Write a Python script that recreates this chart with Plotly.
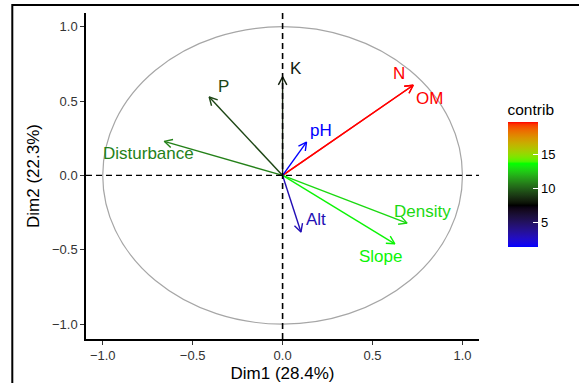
import numpy as np
import plotly.graph_objects as go

# ---------------- data ----------------
variables = ["N", "OM", "K", "P", "pH", "Disturbance", "Density", "Slope", "Alt"]
dim1 = [0.726, 0.726, 0.0, -0.408, 0.133, -0.658, 0.692, 0.624, 0.102]
dim2 = [0.606, 0.606, 0.662, 0.527, 0.224, 0.229, -0.321, -0.460, -0.381]
contrib = [19.75, 19.75, 8.28, 9.31, 1.38, 10.8, 12.8, 13.4, 3.01]
xtick_vals = [-1.0, -0.5, 0.0, 0.5, 1.0]
ytick_vals = [-1.0, -0.5, 0.0, 0.5, 1.0]
gradient_cols = ["#0000FF", "#000000", "#00FF00", "#FF0000"]
x_title = "Dim1 (28.4%)"
y_title = "Dim2 (22.3%)"
legend_title = "contrib"

# label placement (pixel shifts relative to arrow tip)
label_shift = {
    "N": (-14, 12), "OM": (16, -13), "K": (13, 8), "P": (14, 11), "pH": (14, 12),
    "Disturbance": (-16, -12), "Density": (15, 12), "Slope": (-14, -13), "Alt": (15, 13),
}

# ---------------- colour helpers (Lab interpolation like ggplot) ----------------
def hex2rgb(h):
    h = h.lstrip("#")
    return [int(h[i:i + 2], 16) / 255 for i in (0, 2, 4)]

def srgb2lin(c):
    return c / 12.92 if c <= 0.04045 else ((c + 0.055) / 1.055) ** 2.4

def lin2srgb(c):
    c = min(max(c, 0), 1)
    return 12.92 * c if c <= 0.0031308 else 1.055 * c ** (1 / 2.4) - 0.055

M = np.array([[0.4124, 0.3576, 0.1805], [0.2126, 0.7152, 0.0722], [0.0193, 0.1192, 0.9505]])
Minv = np.linalg.inv(M)
WP = np.array([0.95047, 1.0, 1.08883])

def f(t):
    return t ** (1 / 3) if t > (6 / 29) ** 3 else t / (3 * (6 / 29) ** 2) + 4 / 29

def finv(t):
    return t ** 3 if t > 6 / 29 else 3 * (6 / 29) ** 2 * (t - 4 / 29)

def rgb2lab(rgb):
    lin = np.array([srgb2lin(c) for c in rgb])
    xyz = M @ lin / WP
    fx, fy, fz = [f(v) for v in xyz]
    return np.array([116 * fy - 16, 500 * (fx - fy), 200 * (fy - fz)])

def lab2rgb(lab):
    L, a, b = lab
    fy = (L + 16) / 116
    fx = fy + a / 500
    fz = fy - b / 200
    xyz = np.array([finv(fx), finv(fy), finv(fz)]) * WP
    lin = Minv @ xyz
    return [lin2srgb(c) for c in lin]

labs = [rgb2lab(hex2rgb(c)) for c in gradient_cols]

def color_at(t):
    t = min(max(t, 0), 1)
    n = len(labs) - 1
    i = min(int(t * n), n - 1)
    u = t * n - i
    lab = labs[i] * (1 - u) + labs[i + 1] * u
    r, g, b = lab2rgb(lab)
    return "rgb(%d,%d,%d)" % (round(r * 255), round(g * 255), round(b * 255))

colorscale = [[k / 60, color_at(k / 60)] for k in range(61)]
cmin, cmax = min(contrib), max(contrib)

# ---------------- layout geometry ----------------
W, H = 579, 383
ml, mr, mt, mb = 86, 100, 13, 44
xr = [-1.093, 1.092]
yr = [-1.10, 1.092]
pw, ph = W - ml - mr, H - mt - mb
sx = pw / (xr[1] - xr[0])
sy = ph / (yr[1] - yr[0])

FONT = "Liberation Sans, Arial"
fig = go.Figure()

# arrows
head_len = 9
ang = np.deg2rad(28)
for name, x, y, c in zip(variables, dim1, dim2, contrib):
    col = color_at((c - cmin) / (cmax - cmin))
    dx, dy = x * sx, y * sy
    n = np.hypot(dx, dy)
    ux, uy = dx / n, dy / n
    hx, hy = [], []
    for s in (1, -1):
        rx = ux * np.cos(s * ang) - uy * np.sin(s * ang)
        ry = ux * np.sin(s * ang) + uy * np.cos(s * ang)
        hx.append(x - head_len * rx / sx)
        hy.append(y - head_len * ry / sy)
    fig.add_trace(go.Scatter(
        x=[0, x, None, hx[0], x, hx[1]], y=[0, y, None, hy[0], y, hy[1]],
        mode="lines", line=dict(color=col, width=1.4), showlegend=False, hoverinfo="skip"))
    xs, ys = label_shift[name]
    fig.add_annotation(x=x, y=y, text=name, showarrow=False, xshift=xs, yshift=ys,
                       font=dict(family=FONT, size=17, color=col))

# colourbar carrier
bar_bottom_px, bar_top_px = 247, 126
title_px = 26
fig.add_trace(go.Scatter(
    x=dim1, y=dim2, mode="markers", showlegend=False, hoverinfo="skip",
    marker=dict(size=1, opacity=0, color=contrib, colorscale=colorscale, cmin=cmin, cmax=cmax,
                showscale=True,
                colorbar=dict(
                    title=dict(text=legend_title, side="top",
                               font=dict(family=FONT, size=15.5, color="black")),
                    thickness=30, lenmode="pixels", len=bar_bottom_px - bar_top_px + title_px,
                    x=(507.5 - ml) / pw, xanchor="left", xpad=0,
                    y=(H - mb - bar_bottom_px) / ph, yanchor="bottom", ypad=0,
                    outlinewidth=0, ticks="inside", ticklen=5, tickcolor="white", tickwidth=1,
                    tickvals=[5, 10, 15],
                    tickfont=dict(family=FONT, size=13, color="black")))))

shapes = [
    dict(type="circle", xref="x", yref="y", x0=-1, x1=1, y0=-1, y1=1,
         line=dict(color="#A6A6A6", width=1.2), layer="below"),
    dict(type="line", xref="x", yref="paper", x0=0, x1=0, y0=0, y1=1,
         line=dict(color="black", width=1.6, dash="6px,4px")),
    dict(type="line", xref="paper", yref="y", x0=0, x1=1, y0=0, y1=0,
         line=dict(color="black", width=1.4, dash="6px,4px")),
    # outer frame
    dict(type="rect", xref="paper", yref="paper",
         x0=(12.3 - ml) / pw, x1=1.4, y0=-0.3, y1=(H - mb - 5) / ph,
         line=dict(color="black", width=2)),
]

axis_common = dict(showgrid=False, zeroline=False, showline=True, linecolor="black", linewidth=1.5,
                   ticks="outside", ticklen=4, tickcolor="#333333", tickwidth=1.2,
                   tickfont=dict(family=FONT, size=13, color="#333333"),
                   tickformat=".1f", automargin=False)

fig.update_layout(
    width=W, height=H, margin=dict(l=ml, r=mr, t=mt, b=mb, autoexpand=False),
    plot_bgcolor="white", paper_bgcolor="white",
    shapes=shapes,
    xaxis=dict(range=xr, tickvals=xtick_vals, title=dict(text=x_title, standoff=6,
               font=dict(family=FONT, size=17, color="black")), **axis_common),
    yaxis=dict(range=yr, tickvals=ytick_vals, title=dict(text=y_title, standoff=8,
               font=dict(family=FONT, size=17, color="black")), **axis_common),
)

fig.write_html("out.html", config={"displayModeBar": False},
               post_script="document.body.style.margin='0px';document.body.style.overflow='hidden';")
